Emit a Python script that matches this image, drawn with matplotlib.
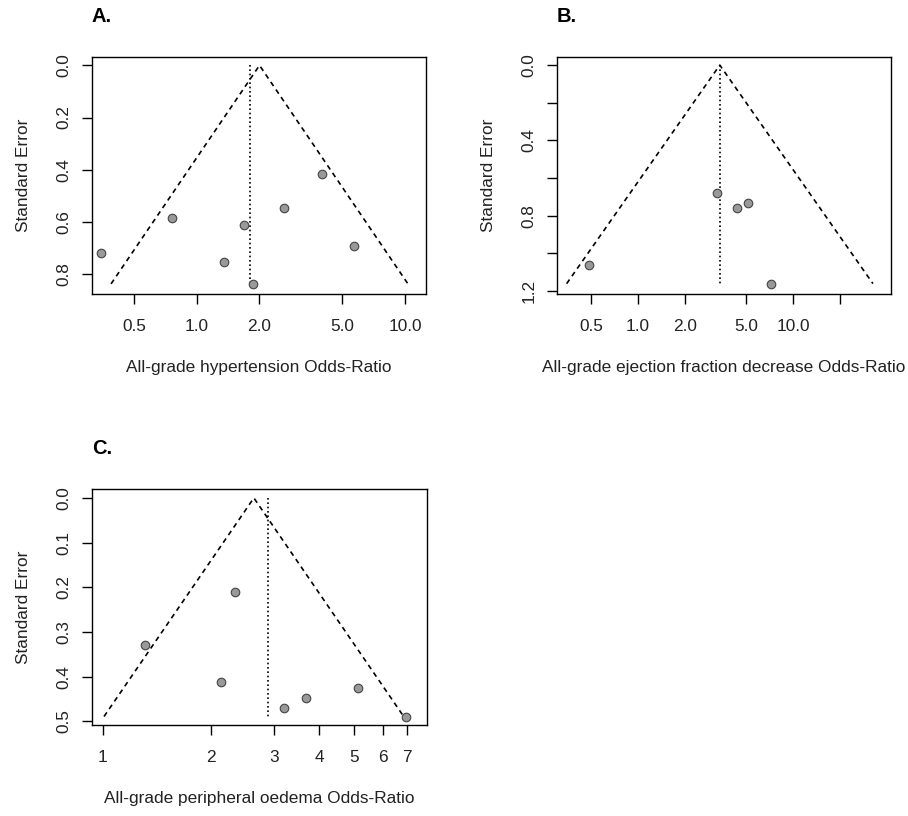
import numpy as np
import matplotlib
matplotlib.use("Agg")
import matplotlib.pyplot as plt

plt.rcParams['font.family'] = ['Liberation Sans', 'DejaVu Sans']

# panel A: all-grade hypertension
a_or = [0.348, 0.758, 1.35, 1.68, 1.87, 2.63, 4.01, 5.66]
a_se = [0.719, 0.586, 0.755, 0.612, 0.837, 0.546, 0.416, 0.694]
a_ref = 1.80      # dotted line
a_apex = 2.00     # funnel centre
a_xticks = [0.5, 1.0, 2.0, 5.0, 10.0]
a_xlabels = ["0.5", "1.0", "2.0", "5.0", "10.0"]
a_yticks = [0.0, 0.2, 0.4, 0.6, 0.8]
a_ylabels = ["0.0", "0.2", "0.4", "0.6", "0.8"]

# panel B: all-grade ejection fraction decrease
b_or = [0.485, 3.22, 4.33, 5.16, 7.26]
b_se = [1.062, 0.677, 0.757, 0.734, 1.161]
b_ref = 3.37
b_apex = 3.37
b_xticks = [0.5, 1.0, 2.0, 5.0, 10.0, 20.0]
b_xlabels = ["0.5", "1.0", "2.0", "5.0", "10.0", ""]
b_yticks = [0.0, 0.2, 0.4, 0.6, 0.8, 1.0, 1.2]
b_ylabels = ["0.0", "", "0.4", "", "0.8", "", "1.2"]

# panel C: all-grade peripheral oedema
c_or = [1.31, 2.33, 2.13, 3.19, 3.66, 5.11, 6.96]
c_se = [0.330, 0.211, 0.411, 0.471, 0.447, 0.426, 0.489]
c_ref = 2.87
c_apex = 2.63
c_xticks = [1, 2, 3, 4, 5, 6, 7]
c_xlabels = ["1", "2", "3", "4", "5", "6", "7"]
c_yticks = [0.0, 0.1, 0.2, 0.3, 0.4, 0.5]
c_ylabels = ["0.0", "0.1", "0.2", "0.3", "0.4", "0.5"]

W, H = 908, 816
fig = plt.figure(figsize=(W / 100, H / 100), dpi=100)
txt = '#222222'
fs = 12.4


def funnel(box, ors, ses, ref, apex, xlim, ylim, xt, xl, yt, yl, xlabel, tag, tag_y):
    l, t, r, b = box
    ax = fig.add_axes([l / W, 1 - b / H, (r - l) / W, (b - t) / H])
    ax.set_xscale('log')
    se_max = max(ses)
    lo = np.log(apex) - 1.96 * se_max
    hi = np.log(apex) + 1.96 * se_max
    ax.plot([np.exp(lo), apex, np.exp(hi)], [se_max, 0, se_max],
            color='black', lw=1.2, linestyle=(0, (3, 2.5)))
    ax.plot([ref, ref], [0, se_max], color='black', lw=1.2, linestyle=(0, (1, 1.6)))
    ax.scatter(ors, ses, s=38, facecolor='#999999', edgecolor='#444444',
               linewidth=0.8, zorder=3)
    ax.set_xlim(*xlim)
    ax.set_ylim(*ylim)
    ax.set_xticks(xt)
    ax.set_xticklabels(xl)
    ax.minorticks_off()
    ax.set_yticks(yt)
    ax.set_yticklabels(yl, rotation=90, va='center')
    ax.tick_params(direction='out', length=7, width=1, labelsize=fs,
                   labelcolor=txt, pad=8)
    ax.tick_params(axis='x', pad=11)
    for s in ax.spines.values():
        s.set_linewidth(1)
    ax.set_xlabel(xlabel, fontsize=fs, color=txt, labelpad=19)
    ax.set_ylabel("Standard Error", fontsize=fs, color=txt, labelpad=18)
    fig.text(l / W, 1 - tag_y / H, tag,
             fontsize=14.5, fontweight='bold', va='center', ha='left')
    return ax


funnel((92, 57, 426, 294), a_or, a_se, a_ref, a_apex,
       (0.314, 12.6), (0.876, -0.032), a_xticks, a_xlabels, a_yticks, a_ylabels,
       "All-grade hypertension Odds-Ratio", "A.", 17)
funnel((557, 57, 891, 294), b_or, b_se, b_ref, b_apex,
       (0.30, 42.9), (1.216, -0.043), b_xticks, b_xlabels, b_yticks, b_ylabels,
       "All-grade ejection fraction decrease Odds-Ratio", "B.", 17)
funnel((92, 489, 427, 725), c_or, c_se, c_ref, c_apex,
       (0.934, 7.96), (0.508, -0.020), c_xticks, c_xlabels, c_yticks, c_ylabels,
       "All-grade peripheral oedema Odds-Ratio", "C.", 448)

fig.savefig("out.png", dpi=100)
